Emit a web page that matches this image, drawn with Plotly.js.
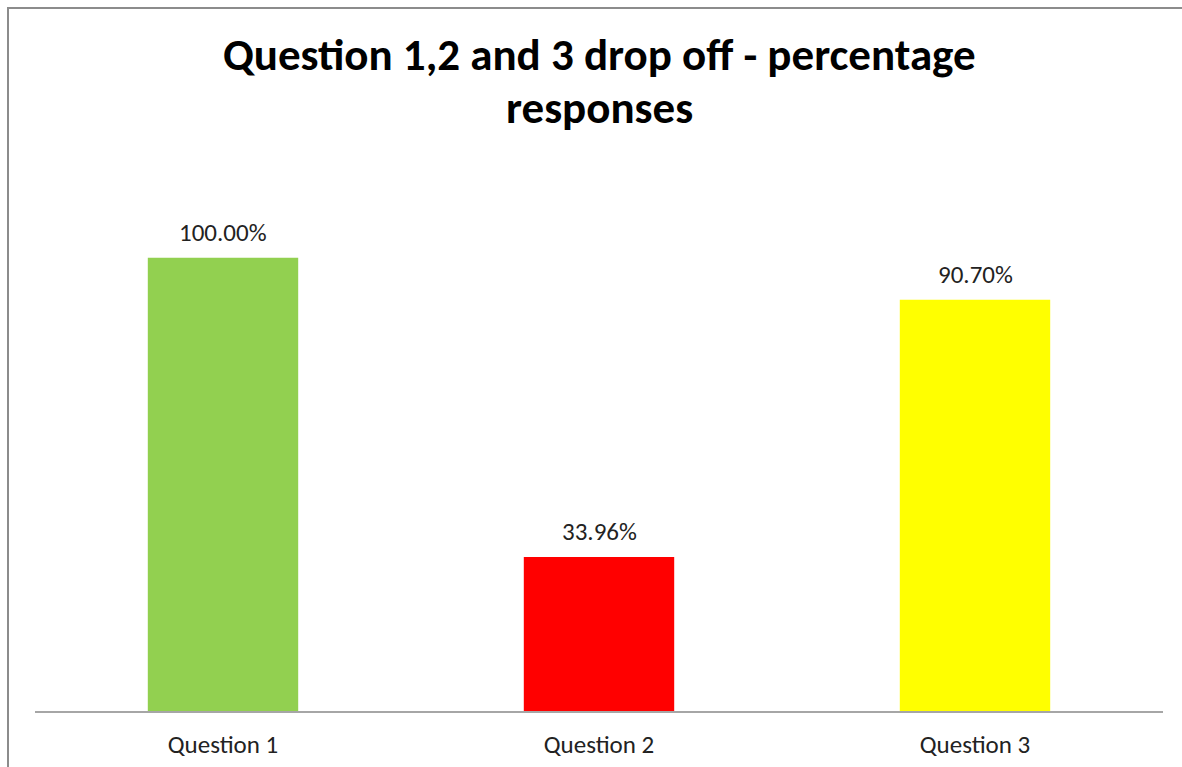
<!DOCTYPE html>
<html>
<head>
<meta charset="utf-8">
<script src="https://cdn.plot.ly/plotly-3.0.1.min.js"></script>
<style>
html,body{margin:0;padding:0;background:#fff;}
#wrap{position:relative;width:1182px;height:767px;}
#chart{width:1182px;height:767px;}
#frame{position:absolute;left:7px;top:7px;width:1175px;height:760px;border-left:2px solid #8c8c8c;border-top:2px solid #8c8c8c;pointer-events:none;box-sizing:border-box;}
</style>
</head>
<body>
<div id="wrap"><div id="chart"></div><div id="frame"></div></div>
<script>
const categories = ["Question 1", "Question 2", "Question 3"];
const values = [1.0, 0.3396, 0.907];
const labels = ["100.00%", "33.96%", "90.70%"];
const colors = ["#92D050", "#FF0000", "#FFFF00"];
const titleLine1 = "Question 1,2 and 3 drop off - percentage";
const titleLine2 = "responses";

const font = "Carlito, Calibri, 'Open Sans', 'Liberation Sans', sans-serif";

const trace = {
  type: "bar",
  x: categories,
  y: values,
  marker: {color: colors, line: {width: 0}},
  hoverinfo: "skip"
};

const annotations = categories.map((c, i) => ({
  x: c, y: values[i], xref: "x", yref: "y",
  text: labels[i], showarrow: false,
  yanchor: "bottom", yshift: 8,
  font: {family: font, size: 25, color: "#222"}
}));

annotations.push({
  x: 0.5, y: 1.110, xref: "paper", yref: "paper",
  xanchor: "center", yanchor: "middle",
  text: titleLine2, showarrow: false,
  font: {family: font, size: 45, color: "#000", weight: "bold"}
});

const layout = {
  width: 1182, height: 767,
  margin: {l: 35, r: 19, t: 167, b: 56},
  paper_bgcolor: "#fff", plot_bgcolor: "#fff",
  title: {
    text: titleLine1,
    x: 0.507, xref: "container", xanchor: "center",
    y: 0.9296, yref: "container", yanchor: "middle",
    font: {family: font, size: 45, color: "#000", weight: "bold"}
  },
  bargap: 0.6,
  showlegend: false,
  xaxis: {
    type: "category",
    showline: true, linecolor: "#a6a6a6", linewidth: 1.5,
    ticks: "", showgrid: false, zeroline: false,
    tickfont: {family: font, size: 25, color: "#222"},
    ticklabelstandoff: 10,
    fixedrange: true
  },
  yaxis: {
    range: [0, 1.2], visible: false, showgrid: false, zeroline: false,
    fixedrange: true
  },
  annotations: annotations
};

Plotly.newPlot("chart", [trace], layout, {displayModeBar: false, staticPlot: true});
</script>
</body>
</html>
